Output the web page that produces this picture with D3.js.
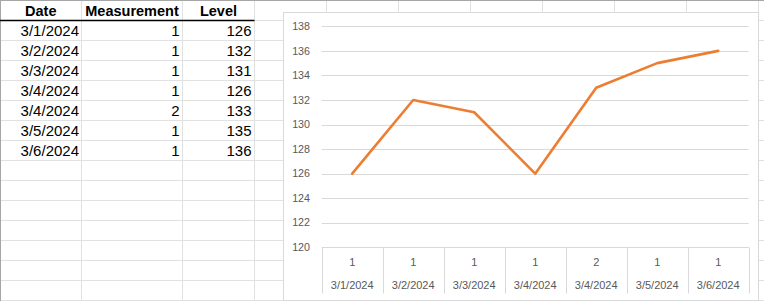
<!DOCTYPE html>
<html>
<head>
<meta charset="utf-8">
<script src="https://cdn.jsdelivr.net/npm/d3@7"></script>
<style>
  html, body { margin: 0; padding: 0; background: #fff; }
  svg { display: block; }
</style>
</head>
<body>
<svg id="chart" width="764" height="301"></svg>
<script>
// ---- data ----
const dates = ["3/1/2024", "3/2/2024", "3/3/2024", "3/4/2024", "3/4/2024", "3/5/2024", "3/6/2024"];
const measurements = [1, 1, 1, 1, 2, 1, 1];
const levels = [126, 132, 131, 126, 133, 135, 136];
const headers = ["Date", "Measurement", "Level"];
const yTicks = [120, 122, 124, 126, 128, 130, 132, 134, 136, 138];

const W = 764, H = 301;
const svg = d3.select("#chart");
const gridColor = "#e1e1e1";
const font = "'Liberation Sans', Arial, sans-serif";

// ---- spreadsheet grid ----
const colEdges = [0, 81.5, 182.5, 254.5, 326.5, 398.5, 470.5, 542.5, 614.5, 686.5, 758.5];
const rowEdges = d3.range(0, 301, 20).map(v => v + 0.5);
const sheet = svg.append("g");
sheet.selectAll("line.col").data(colEdges.slice(1)).join("line")
  .attr("x1", d => d).attr("x2", d => d).attr("y1", 0).attr("y2", H)
  .attr("stroke", gridColor).attr("stroke-width", 1);
sheet.selectAll("line.row").data(rowEdges.slice(1)).join("line")
  .attr("x1", 0).attr("x2", W).attr("y1", d => d).attr("y2", d => d)
  .attr("stroke", gridColor).attr("stroke-width", 1);
// outer border top and left
sheet.append("line").attr("x1", 0).attr("x2", W).attr("y1", 0.5).attr("y2", 0.5).attr("stroke", "#a6a6a6");
sheet.append("line").attr("x1", 0.5).attr("x2", 0.5).attr("y1", 0).attr("y2", H).attr("stroke", "#a6a6a6");
// header bottom border
sheet.append("line").attr("x1", 0).attr("x2", 254.5).attr("y1", 20.5).attr("y2", 20.5)
  .attr("stroke", "#000").attr("stroke-width", 1.3);

// header text
const colCenters = [40.75, 132, 218.5];
sheet.selectAll("text.hdr").data(headers).join("text")
  .attr("x", (d, i) => colCenters[i]).attr("y", 16)
  .attr("text-anchor", "middle").attr("font-family", font)
  .attr("font-size", "14.5px").attr("font-weight", "bold").attr("fill", "#000")
  .text(d => d);

// data cells
const rightEdges = [79, 179.5, 251.5];
const rows = dates.map((d, i) => [d, measurements[i], levels[i]]);
rows.forEach((r, i) => {
  r.forEach((v, j) => {
    sheet.append("text")
      .attr("x", rightEdges[j]).attr("y", 36 + i * 20)
      .attr("text-anchor", "end").attr("font-family", font)
      .attr("font-size", "15px").attr("fill", "#000")
      .text(v);
  });
});

// ---- chart ----
const box = { x: 283.5, y: 12.5, w: 475, h: 288 };
svg.append("rect").attr("x", box.x).attr("y", box.y).attr("width", box.w).attr("height", box.h)
  .attr("fill", "#fff").attr("stroke", "#d9d9d9").attr("stroke-width", 1);

const plot = { left: 321.7, right: 748.7, top: 26.3, bottom: 247.3 };
const x = d3.scaleBand().domain(d3.range(dates.length)).range([plot.left, plot.right]).padding(0);
const y = d3.scaleLinear().domain([120, 138]).range([plot.bottom, plot.top]);

const g = svg.append("g");
// gridlines
g.selectAll("line.grid").data(yTicks).join("line")
  .attr("x1", plot.left).attr("x2", plot.right)
  .attr("y1", d => Math.round(y(d)) + 0.5).attr("y2", d => Math.round(y(d)) + 0.5)
  .attr("stroke", "#d9d9d9").attr("stroke-width", 1);

// y axis labels
g.selectAll("text.ytick").data(yTicks).join("text")
  .attr("x", 310).attr("y", d => y(d))
  .attr("dy", "0.35em").attr("text-anchor", "end")
  .attr("font-family", font).attr("font-size", "10.7px").attr("fill", "#595959")
  .text(d => d);

// category axis separators
const sepX = d3.range(dates.length + 1).map(i => i < dates.length ? x(i) : plot.right);
g.selectAll("line.sep").data(sepX).join("line")
  .attr("x1", d => Math.round(d) + 0.5).attr("x2", d => Math.round(d) + 0.5)
  .attr("y1", plot.bottom).attr("y2", 293.5)
  .attr("stroke", "#d9d9d9").attr("stroke-width", 1);

// category labels
g.selectAll("text.meas").data(measurements).join("text")
  .attr("x", (d, i) => x(i) + x.bandwidth() / 2).attr("y", 262.3)
  .attr("dy", "0.35em").attr("text-anchor", "middle")
  .attr("font-family", font).attr("font-size", "11px").attr("fill", "#595959")
  .text(d => d);
g.selectAll("text.date").data(dates).join("text")
  .attr("x", (d, i) => x(i) + x.bandwidth() / 2).attr("y", 285)
  .attr("dy", "0.35em").attr("text-anchor", "middle")
  .attr("font-family", font).attr("font-size", "11px").attr("fill", "#595959")
  .text(d => d);

// line
const line = d3.line()
  .x((d, i) => x(i) + x.bandwidth() / 2)
  .y(d => y(d));
g.append("path").datum(levels)
  .attr("d", line).attr("fill", "none")
  .attr("stroke", "#ED7D31").attr("stroke-width", 2.6)
  .attr("stroke-linejoin", "round").attr("stroke-linecap", "round");
</script>
</body>
</html>
